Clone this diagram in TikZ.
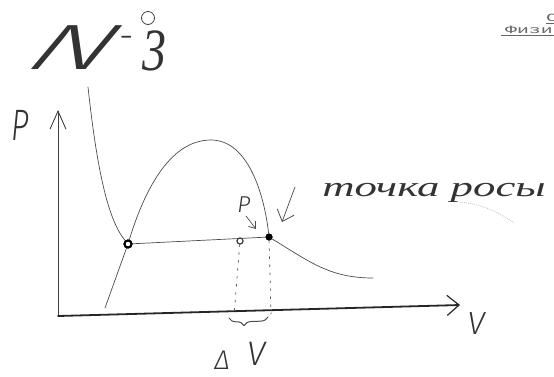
\documentclass[tikz,border=0pt]{standalone}
\usepackage{fontspec}
\setmainfont{Liberation Serif}
\newfontfamily\typefont[FakeStretch=1.8]{Liberation Mono}
\newfontfamily\handfont{Fira Sans}[UprightFont={* Light},ItalicFont={* Light Italic}]
\usetikzlibrary{arrows.meta,decorations.pathreplacing}
\begin{document}
\begin{tikzpicture}[x=1pt,y=-1pt,
  pencil/.style={draw=black!70,line width=0.7pt,line cap=round,line join=round},
  axisx/.style={draw=black!85,line width=1.8pt,line cap=round},
  axisy/.style={draw=black!75,line width=0.9pt,line cap=round},
  dotted line/.style={pencil,dash pattern=on 2pt off 6pt},
  hand/.style={text=black!80,inner sep=0pt},
  typed/.style={text=black!60,inner sep=0pt},
  ring/.style={circle,draw=black,line width=2pt,fill=white,inner sep=0pt,minimum size=7pt},
  blob/.style={circle,fill=black,inner sep=0pt,minimum size=7pt},
  openc/.style={circle,draw=black!80,line width=1pt,fill=white,inner sep=0pt,minimum size=6pt},
  ]
\useasboundingbox (0,0) rectangle (554,376);
\clip (0,0) rectangle (554,376);

% coordinates
\coordinate (isoTop) at (88,87);
\coordinate (peak) at (211,140);
\coordinate (domeFoot) at (105,308);
\coordinate (isoEnd) at (373,278);
\coordinate (O) at (58,316);
\coordinate (yTop) at (58,110);
\coordinate (xEnd) at (460,305);
\coordinate (footM) at (234,316);
\coordinate (footR) at (271,314);
\coordinate (braceL) at (229,318);
\coordinate (braceR) at (268,317);
\coordinate (dewTail) at (295,187);
\coordinate (dewTip) at (282,222);
\coordinate (pTail) at (246,216);
\coordinate (pTip) at (256,229);
\coordinate (faintA) at (460,202);
\coordinate (faintB) at (514,223);

% points (placed first, drawn over afterwards)
\path (128,244) node[ring] (dotL) {};
\path (269,237) node[blob] (dotR) {};
\path (240,241) node[openc] (mid) {};

% axes
\draw[axisy,-{Straight Barb[length=18pt,width=16pt,line width=0.9pt]}] (O) -- (yTop);
\draw[axisx,-{Straight Barb[length=12pt,width=20pt,line width=1.2pt]}] (O) -- (xEnd);

% isotherm and dome
\draw[pencil] (isoTop) .. controls (97,170) and (108,220) .. (dotL);
\draw[pencil] (domeFoot) -- (dotL);
\draw[pencil] (dotL) .. controls (143,195) and (168,140) .. (peak)
                     .. controls (250,140) and (265,200) .. (dotR);
\draw[pencil] (dotL) -- (dotR);
\draw[pencil] (dotR) .. controls (310,262) and (330,278) .. (isoEnd);

% dashed verticals
\draw[dotted line] (mid) -- (footM);
\draw[dotted line] (dotR) -- (footR);

% brace
\draw[pencil,line width=1pt,decorate,decoration={brace,mirror,amplitude=8pt,aspect=0.38}] (braceL) -- (braceR);

% arrows
\draw[pencil,-{Straight Barb[length=10pt,width=18pt,line width=0.8pt]}] (dewTail) -- (dewTip);
\draw[pencil,-{Straight Barb[length=6pt,width=9pt,line width=0.8pt]}] (pTail) -- (pTip);
\draw[black!30,line width=0.5pt,dash pattern=on 1pt off 1pt] (faintA) .. controls (480,204) and (500,212) .. (faintB);

% redraw points on top
\node[ring] at (dotL) {};
\node[blob] at (dotR) {};
\node[openc] at (mid) {};

% handwritten labels
\node[hand,font=\handfont\itshape\fontsize{64}{64}\selectfont,xscale=1.9,xslant=0.3] (numN) at (76,48) {N};
\node[hand,font=\handfont\fontsize{36}{36}\selectfont] (numDash) at (127,42) {-};
\node[hand,font=\itshape\fontsize{60}{60}\selectfont,xscale=0.8] (numThree) at (154,51) {3};
\node[circle,draw=black!75,line width=0.8pt,minimum width=13pt,inner sep=0pt] (numO) at (148,18) {};
\node[hand,font=\handfont\itshape\fontsize{44}{44}\selectfont,xscale=0.7] (labP) at (20,125) {P};
\node[hand,font=\handfont\itshape\fontsize{32}{32}\selectfont] (labV) at (476,324) {V};
\node[hand,font=\handfont\itshape\fontsize{27}{27}\selectfont] (labDelta) at (222,360) {Δ};
\node[hand,font=\handfont\itshape\fontsize{34}{34}\selectfont] (labDV) at (256,354) {V};
\node[hand,font=\handfont\itshape\fontsize{23}{23}\selectfont] (labPs) at (244,205) {P};
\node[hand,font=\itshape\fontsize{28}{28}\selectfont,xscale=1.6,anchor=base west] (dew) at (322,196) {точка росы};

% typed header (cut off at the edge, as in the reference)
\node[typed,font=\typefont\fontsize{11}{11}\selectfont,anchor=base west] (hdrA) at (546,21) {С};
\node[typed,font=\typefont\fontsize{11}{11}\selectfont,anchor=base west] (hdrB) at (505,33) {Физика};
\draw[black!60,line width=0.6pt] (hdrA.south west) ++(0,2) -- ++(12,0);
\draw[black!60,line width=0.6pt] (hdrB.south west) ++(-4,2) -- ++(60,0);
\end{tikzpicture}
\end{document}
